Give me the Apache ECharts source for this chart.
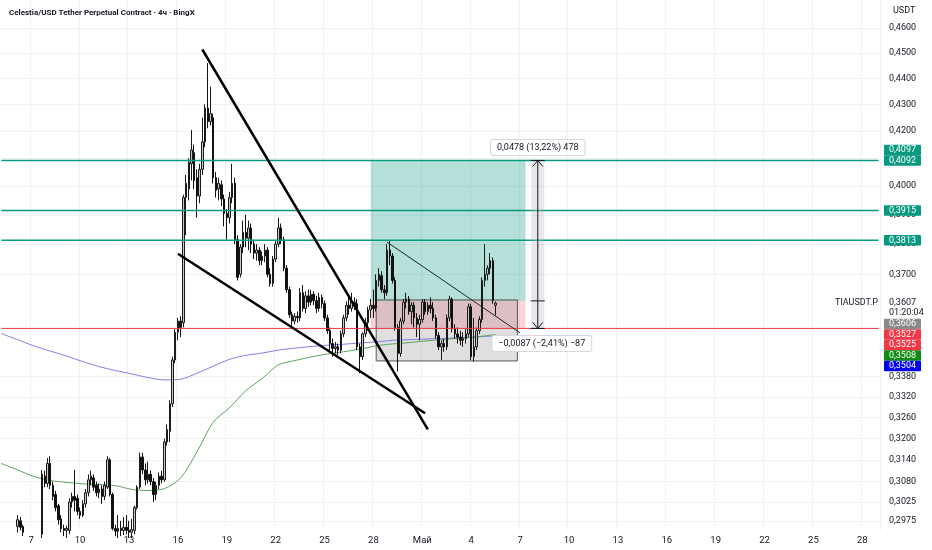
<!DOCTYPE html>
<html><head><meta charset="utf-8">
<script src="https://cdn.jsdelivr.net/npm/echarts@6/dist/echarts.min.js"></script>
<style>html,body{margin:0;padding:0;background:#fff}#c{width:932px;height:550px}</style>
</head><body><div id="c"></div>
<script>
// ---------- data ----------
const chartTitle = 'Celestia/USD Tether Perpetual Contract · 4ч · BingX';
const symbolName = 'TIAUSDT.P';
const quoteName = 'USDT';
const startUTC = Date.UTC(2025, 3, 5, 4); // first 4h slot
const slotCount = 324;
const monthNames = ['', '', '', '', 'Май'];
// OHLC as [open, close, low, high]
const candles = [
[.2900,.2890,.2870,.2920],[.2890,.2905,.2880,.2925],[.2905,.2895,.2880,.2930],[.2895,.2910,.2885,.2935],
[.2910,.2920,.2900,.2940],[.2920,.2935,.2905,.2945],[.2960,.2978,.2945,.2990],[.2975,.2958,.2950,.2985],
[.2960,.2945,.2935,.2965],[.2945,.2930,.2920,.2950],[.2930,.2925,.2910,.2945],[.2925,.2935,.2915,.2945],
[.2935,.2920,.2910,.2945],[.2920,.2930,.2910,.2945],[.2930,.2940,.2920,.2948],[.2940,.3100,.2930,.3112],
[.3095,.3075,.3065,.3110],[.3075,.3130,.3065,.3145],[.3130,.3070,.3060,.3150],[.3070,.3040,.3030,.3080],
[.3045,.3010,.3000,.3055],[.3015,.2978,.2965,.3020],[.2980,.2955,.2945,.2990],[.2955,.2950,.2935,.2965],
[.2950,.2955,.2930,.2962],[.2950,.3025,.2940,.3035],[.3025,.3040,.3010,.3050],[.3040,.3030,.3000,.3112],
[.3035,.3000,.2990,.3045],[.3000,.2990,.2980,.3010],[.2990,.3020,.2985,.3030],[.3020,.3050,.3010,.3060],
[.3050,.3085,.3040,.3100],[.3085,.3095,.3070,.3110],[.3090,.3065,.3055,.3100],[.3070,.3050,.3040,.3080],
[.3050,.3060,.3035,.3075],[.3060,.3040,.3020,.3070],[.3040,.3070,.3030,.3080],[.3065,.3140,.3060,.3150],
[.3140,.3045,.3040,.3145],[.3045,.2955,.2950,.3050],[.2955,.2948,.2935,.2965],[.2948,.2955,.2930,.2990],
[.2955,.2950,.2935,.2975],[.2950,.2958,.2938,.2985],[.2958,.2950,.2940,.2990],[.2950,.2945,.2930,.2975],
[.2945,.2952,.2930,.2980],[.2950,.3010,.2940,.3015],[.3010,.3065,.3005,.3070],[.3065,.3148,.3060,.3160],
[.3148,.3112,.3100,.3160],[.3112,.3085,.3070,.3130],[.3085,.3100,.3075,.3135],[.3100,.3080,.3070,.3110],
[.3080,.3045,.3025,.3090],[.3045,.3070,.3030,.3080],[.3070,.3095,.3060,.3105],[.3095,.3085,.3075,.3110],
[.3085,.3190,.3080,.3200],[.3190,.3225,.3180,.3240],[.3220,.3300,.3190,.3310],[.3300,.3430,.3290,.3440],
[.3430,.3515,.3420,.3525],[.3515,.3550,.3490,.3560],[.3550,.3530,.3500,.3565],[.3545,.3960,.3530,.3970],
[.3960,.4010,.3830,.4040],[.3990,.4085,.3950,.4100],[.4080,.4130,.4020,.4204],[.4120,.4020,.3990,.4150],
[.4030,.3965,.3890,.4060],[.3965,.4060,.3940,.4080],[.4060,.4160,.4040,.4250],[.4160,.4286,.4140,.4300],
[.4286,.4235,.4210,.4460],[.4235,.4265,.4220,.4368],[.4250,.4030,.4010,.4265],[.4030,.3985,.3960,.4050],
[.3990,.4010,.3950,.4030],[.4005,.3955,.3930,.4020],[.3955,.3905,.3860,.3970],[.3905,.3890,.3815,.3920],
[.3890,.3960,.3870,.3980],[.3960,.4010,.3940,.4080],[.4010,.3815,.3800,.4030],[.3815,.3690,.3680,.3830],
[.3700,.3790,.3690,.3800],[.3790,.3840,.3770,.3880],[.3840,.3820,.3790,.3900],[.3820,.3855,.3780,.3880],
[.3855,.3800,.3770,.3870],[.3800,.3770,.3750,.3815],[.3770,.3780,.3745,.3800],[.3780,.3745,.3730,.3790],
[.3745,.3760,.3730,.3775],[.3760,.3780,.3740,.3800],[.3780,.3700,.3690,.3790],[.3700,.3670,.3660,.3720],
[.3670,.3750,.3660,.3760],[.3750,.3800,.3740,.3815],[.3800,.3855,.3790,.3890],[.3855,.3815,.3800,.3870],
[.3815,.3720,.3710,.3825],[.3720,.3650,.3640,.3730],[.3650,.3570,.3560,.3660],[.3570,.3550,.3525,.3580],
[.3550,.3565,.3540,.3575],[.3565,.3560,.3545,.3580],[.3560,.3640,.3550,.3655],[.3640,.3590,.3580,.3665],
[.3590,.3630,.3575,.3645],[.3630,.3610,.3595,.3650],[.3610,.3635,.3600,.3650],[.3635,.3615,.3600,.3645],
[.3615,.3590,.3575,.3630],[.3590,.3625,.3580,.3640],[.3625,.3605,.3590,.3635],[.3605,.3560,.3550,.3615],
[.3560,.3520,.3510,.3570],[.3520,.3480,.3460,.3530],[.3480,.3465,.3440,.3495],[.3465,.3470,.3450,.3485],
[.3470,.3460,.3445,.3480],[.3460,.3510,.3450,.3520],[.3510,.3560,.3500,.3570],[.3560,.3600,.3550,.3612],
[.3600,.3590,.3570,.3630],[.3590,.3610,.3580,.3640],[.3610,.3600,.3585,.3625],[.3605,.3470,.3460,.3620],
[.3470,.3440,.3390,.3480],[.3440,.3510,.3430,.3515],[.3510,.3545,.3500,.3560],[.3545,.3585,.3520,.3595],
[.3585,.3600,.3560,.3620],[.3600,.3590,.3560,.3650],[.3590,.3680,.3580,.3700],[.3680,.3700,.3660,.3720],
[.3695,.3650,.3640,.3710],[.3650,.3640,.3620,.3665],[.3640,.3780,.3630,.3800],[.3780,.3760,.3730,.3810],
[.3760,.3680,.3670,.3770],[.3680,.3530,.3520,.3690],[.3530,.3450,.3395,.3540],[.3450,.3550,.3440,.3560],
[.3550,.3610,.3540,.3620],[.3610,.3620,.3590,.3640],[.3620,.3580,.3570,.3630],[.3580,.3600,.3540,.3610],
[.3600,.3560,.3530,.3610],[.3560,.3540,.3500,.3575],[.3540,.3555,.3490,.3570],[.3555,.3610,.3545,.3620],
[.3610,.3580,.3570,.3620],[.3580,.3600,.3570,.3610],[.3600,.3590,.3575,.3625],[.3590,.3560,.3550,.3610],
[.3560,.3505,.3495,.3570],[.3505,.3470,.3460,.3515],[.3470,.3480,.3430,.3490],[.3480,.3470,.3455,.3495],
[.3470,.3560,.3460,.3570],[.3560,.3620,.3550,.3630],[.3620,.3525,.3515,.3625],[.3525,.3510,.3495,.3540],
[.3510,.3500,.3480,.3530],[.3500,.3490,.3475,.3520],[.3490,.3495,.3470,.3515],[.3495,.3510,.3480,.3525],
[.3510,.3595,.3500,.3605],[.3595,.3440,.3430,.3605],[.3440,.3470,.3425,.3560],[.3470,.3520,.3460,.3530],
[.3520,.3555,.3510,.3565],[.3555,.3680,.3545,.3690],[.3680,.3700,.3660,.3800],[.3700,.3720,.3680,.3730],
[.3720,.3745,.3700,.3770],[.3745,.3615,.3605,.3755],[.3600,.3607,.3568,.3612]
];
const maIdx   = [0,6,12,18,24,30,36,42,48,54,60,66,72,78,84,90,96,102,108,114,120,126,132,138,144,150,156,162,168,174,180,182];
const maBlue  = [.3511,.3492,.3473,.3457,.3442,.3425,.3410,.3398,.3388,.3377,.3370,.3372,.3390,.3411,.3432,.3444,.3451,.3460,.3466,.3471,.3475,.3478,.3482,.3485,.3490,.3492,.3494,.3496,.3498,.3500,.3503,.3504];
const maGreen = [.3130,.3112,.3094,.3083,.3078,.3074,.3072,.3069,.3059,.3056,.3061,.3090,.3162,.3246,.3288,.3338,.3374,.3415,.3428,.3439,.3448,.3455,.3463,.3473,.3479,.3483,.3488,.3492,.3496,.3500,.3506,.3508];
const yTicks = [0.46,0.45,0.44,0.43,0.42,0.41,0.40,0.39,0.38,0.37,0.338,0.332,0.326,0.32,0.314,0.308,0.3025,0.2975];
const yMin = 0.2951, yMax = 0.4716;
const levelLines = [0.4092, 0.3915, 0.3813];
const stopLine = 0.3527;
// drawings: [slotIndex, price]
const wedgeUpper = [[74,0.4514],[157,0.3226]];
const wedgeLower = [[65,0.3768],[156,0.3272]];
const thinLine   = [[142,0.3807],[191,0.3513]];
// long position tool
const posStart = 136, posEnd = 193, posEntry = 0.3614, posTarget = 0.4092, posStop = 0.3527;
// rectangle
const rectX = [138, 189.5], rectY = [0.3617, 0.3427];
// measure
const measureSlot = 197.5;
const measureUpText = '0,0478 (13,22%) 478';
const measureDownText = '\u22120,0087 (\u22122,41%) \u221287';
// price tags
const tagsTop = [
  {t:'0,4097', c:'#089981', dy:-10.5, base:0.4092},
  {t:'0,4092', c:'#089981', dy:0, base:0.4092},
  {t:'0,3915', c:'#089981', dy:0, base:0.3915},
  {t:'0,3813', c:'#089981', dy:0, base:0.3813}
];
const lastPrice = 0.3607, lastPriceText = '0,3607', countdown = '01:20:04';
const tagsBottom = [
  {t:'0,3606', c:'#8a8a8a'}, {t:'0,3527', c:'#f23645'}, {t:'0,3525', c:'#f23645'},
  {t:'0,3508', c:'#108a10'}, {t:'0,3504', c:'#0000f0'}
];

// ---------- build ----------
const categories = [], slotDate = [];
for (let i = 0; i < slotCount; i++) {
  const d = new Date(startUTC + i * 4 * 3600e3);
  slotDate.push(d);
  categories.push(d.toISOString().slice(0, 13));
}
function isLabelSlot(i) {
  const d = slotDate[i];
  return d && d.getUTCHours() === 0 && (d.getUTCDate() - 1) % 3 === 0;
}
function labelText(i) {
  const d = slotDate[i];
  if (d.getUTCDate() === 1) return monthNames[d.getUTCMonth()] || '';
  return String(d.getUTCDate());
}
const lastSlot = slotCount - 1;
const hLine = (v, color, width) => ({type: 'line', data: [[0, v], [lastSlot, v]], symbol: 'none', z: 6, silent: true,
  lineStyle: {color: color, width: width}});
const FONT = 'Roboto';
const chart = echarts.init(document.getElementById('c'));
chart.setOption({
  animation: false,
  backgroundColor: '#ffffff',
  title: {text: chartTitle, left: 4, top: 4, textStyle: {fontSize: 8, fontWeight: 'bold', color: '#131722', fontFamily: FONT}},
  grid: {left: 0, right: 52, top: 0, bottom: 20},
  xAxis: {
    type: 'category', data: categories, boundaryGap: true,
    axisLine: {show: false}, axisTick: {show: false},
    axisLabel: {interval: (i) => isLabelSlot(i), formatter: (v, i) => labelText(i), color: '#131722', fontSize: 9.5, margin: 6, fontFamily: FONT},
    splitLine: {show: true, interval: (i) => isLabelSlot(i), lineStyle: {color: '#f0f1f4', width: 1}}
  },
  yAxis: {
    type: 'log', logBase: 10, position: 'right', min: yMin, max: yMax,
    axisLine: {show: false}, axisTick: {show: false, customValues: yTicks},
    axisLabel: {customValues: yTicks, formatter: (v) => Number(v).toFixed(4).replace('.', ','), color: '#131722', fontSize: 9, margin: 9, fontFamily: FONT},
    splitLine: {show: true, lineStyle: {color: '#f0f1f4', width: 1}}
  },
  series: [
    {type: 'line', data: [], z: 1, silent: true,
     markArea: {silent: true, data: [
       [{xAxis: posStart, yAxis: posTarget, itemStyle: {color: 'rgba(8,153,129,0.3)'}}, {xAxis: posEnd, yAxis: posEntry}],
       [{xAxis: posStart, yAxis: posEntry, itemStyle: {color: 'rgba(242,54,69,0.2)'}}, {xAxis: posEnd, yAxis: posStop}],
       [{xAxis: rectX[0], yAxis: rectY[0], itemStyle: {color: 'rgba(110,110,110,0.22)', borderColor: '#555', borderWidth: 1}}, {xAxis: rectX[1], yAxis: rectY[1]}]
     ]}},
    {type: 'line', data: maIdx.map((x, k) => [x, maBlue[k]]), smooth: 0.3, symbol: 'none', z: 3,
     lineStyle: {color: '#7f7fe8', width: 1}},
    {type: 'line', data: maIdx.map((x, k) => [x, maGreen[k]]), smooth: 0.3, symbol: 'none', z: 3,
     lineStyle: {color: '#5aa35e', width: 1}},
    {type: 'candlestick', data: candles, barWidth: 2, clip: true, z: 5,
     itemStyle: {color: '#c9c9c9', color0: '#111111', borderColor: '#1a1a1a', borderColor0: '#111111', borderWidth: 1}},
    hLine(levelLines[0], '#089981', 1.5),
    hLine(levelLines[1], '#089981', 1.5),
    hLine(levelLines[2], '#089981', 1.5),
    hLine(stopLine, '#f23645', 1),
    {type: 'line', data: wedgeUpper, symbol: 'none', z: 7, lineStyle: {color: '#000', width: 2.5}},
    {type: 'line', data: wedgeLower, symbol: 'none', z: 7, lineStyle: {color: '#000', width: 2.5}},
    {type: 'line', data: thinLine, symbol: 'none', z: 7, lineStyle: {color: '#222', width: 1}}
  ]
});

// ---------- overlays placed via axis conversion ----------
const yPix = v => chart.convertToPixel({yAxisIndex: 0}, v);
const xPix = s => {
  const a = chart.convertToPixel({xAxisIndex: 0}, Math.floor(s));
  const b = chart.convertToPixel({xAxisIndex: 0}, Math.floor(s) + 1);
  return a + (b - a) * (s - Math.floor(s));
};
const g = [];
const tagX = 884, tagW = 37, tagH = 10.5;
function tag(cy, text, color) {
  g.push({type: 'rect', z: 100, shape: {x: tagX, y: cy - tagH / 2, width: tagW, height: tagH, r: 1}, style: {fill: color}});
  g.push({type: 'text', z: 101, style: {text: text, x: tagX + tagW / 2, y: cy, align: 'center', verticalAlign: 'middle', fill: '#fff', font: '9px ' + FONT}});
}
tagsTop.forEach(t => tag(yPix(t.base) + t.dy, t.t, t.c));
const lpY = yPix(lastPrice);
g.push({type: 'rect', z: 99, shape: {x: 881, y: lpY - 6, width: 51, height: 68}, style: {fill: '#fff'}});
g.push({type: 'text', z: 101, style: {text: lastPriceText, x: 889, y: lpY, verticalAlign: 'middle', fill: '#131722', font: '9px ' + FONT}});
g.push({type: 'text', z: 101, style: {text: countdown, x: 889, y: lpY + 10, verticalAlign: 'middle', fill: '#131722', font: '9px ' + FONT}});
g.push({type: 'text', z: 101, style: {text: symbolName, x: 878, y: lpY, align: 'right', verticalAlign: 'middle', fill: '#131722', font: '9px ' + FONT}});
tagsBottom.forEach((t, k) => tag(lpY + 21 + k * 10.5, t.t, t.c));
g.push({type: 'text', z: 101, style: {text: quoteName, x: 893, y: 11, verticalAlign: 'middle', fill: '#131722', font: '9px ' + FONT}});

// measure tool
const mx = xPix(measureSlot), yT = yPix(posTarget), yE = yPix(posEntry), yS = yPix(posStop);
g.push({type: 'rect', z: 20, shape: {x: mx - 6.5, y: yT, width: 13, height: yS - yT}, style: {fill: 'rgba(180,180,185,0.3)'}});
g.push({type: 'line', z: 21, shape: {x1: mx, y1: yT, x2: mx, y2: yS}, style: {stroke: '#131722', lineWidth: 1}});
[yT, yE, yS].forEach(yy => g.push({type: 'line', z: 21, shape: {x1: mx - 7, y1: yy, x2: mx + 7, y2: yy}, style: {stroke: '#131722', lineWidth: 1}}));
g.push({type: 'polyline', z: 21, shape: {points: [[mx - 5, yT + 6], [mx, yT], [mx + 5, yT + 6]]}, style: {stroke: '#131722', lineWidth: 1, fill: null}});
g.push({type: 'polyline', z: 21, shape: {points: [[mx - 5, yS - 6], [mx, yS], [mx + 5, yS - 6]]}, style: {stroke: '#131722', lineWidth: 1, fill: null}});
g.push({type: 'text', z: 22, style: {text: measureUpText, x: mx, y: yT - 13, align: 'center', verticalAlign: 'middle', fill: '#131722', font: '9px ' + FONT,
  backgroundColor: '#fff', borderColor: '#d6d8de', borderWidth: 1, borderRadius: 2, padding: [3, 6]}});
g.push({type: 'text', z: 22, style: {text: measureDownText, x: mx + 4, y: yS + 15, align: 'center', verticalAlign: 'middle', fill: '#131722', font: '9px ' + FONT,
  backgroundColor: '#fff', borderColor: '#d6d8de', borderWidth: 1, borderRadius: 2, padding: [3, 6]}});
chart.setOption({graphic: {elements: g}});
</script></body></html>
